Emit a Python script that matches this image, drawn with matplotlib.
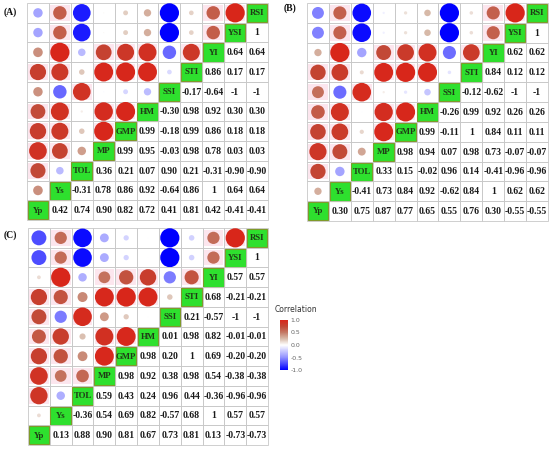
"""Three correlation matrices of drought tolerance indices (circles + values)."""

import matplotlib

matplotlib.use("Agg")

import matplotlib.pyplot as plt  # noqa: E402
import numpy as np  # noqa: E402
from matplotlib.cm import ScalarMappable  # noqa: E402
from matplotlib.colors import LinearSegmentedColormap, Normalize  # noqa: E402
from matplotlib.patches import Ellipse, Rectangle  # noqa: E402

traits = ["Yp", "Ys", "TOL", "MP", "GMP", "HM", "SSI", "STI", "YI", "YSI", "RSI"]

# upper triangle, row i holds corr(trait i, trait j) for j > i
upper_a = [
    [0.42, 0.74, 0.90, 0.82, 0.72, 0.41, 0.81, 0.42, -0.41, -0.41],
    [-0.31, 0.78, 0.86, 0.92, -0.64, 0.86, 1, 0.64, 0.64],
    [0.36, 0.21, 0.07, 0.90, 0.21, -0.31, -0.90, -0.90],
    [0.99, 0.95, -0.03, 0.98, 0.78, 0.03, 0.03],
    [0.99, -0.18, 0.99, 0.86, 0.18, 0.18],
    [-0.30, 0.98, 0.92, 0.30, 0.30],
    [-0.17, -0.64, -1, -1],
    [0.86, 0.17, 0.17],
    [0.64, 0.64],
    [1],
]
upper_b = [
    [0.30, 0.75, 0.87, 0.77, 0.65, 0.55, 0.76, 0.30, -0.55, -0.55],
    [-0.41, 0.73, 0.84, 0.92, -0.62, 0.84, 1, 0.62, 0.62],
    [0.33, 0.15, -0.02, 0.96, 0.14, -0.41, -0.96, -0.96],
    [0.98, 0.94, 0.07, 0.98, 0.73, -0.07, -0.07],
    [0.99, -0.11, 1, 0.84, 0.11, 0.11],
    [-0.26, 0.99, 0.92, 0.26, 0.26],
    [-0.12, -0.62, -1, -1],
    [0.84, 0.12, 0.12],
    [0.62, 0.62],
    [1],
]
upper_c = [
    [0.13, 0.88, 0.90, 0.81, 0.67, 0.73, 0.81, 0.13, -0.73, -0.73],
    [-0.36, 0.54, 0.69, 0.82, -0.57, 0.68, 1, 0.57, 0.57],
    [0.59, 0.43, 0.24, 0.96, 0.44, -0.36, -0.96, -0.96],
    [0.98, 0.92, 0.38, 0.98, 0.54, -0.38, -0.38],
    [0.98, 0.20, 1, 0.69, -0.20, -0.20],
    [0.01, 0.98, 0.82, -0.01, -0.01],
    [0.21, -0.57, -1, -1],
    [0.68, -0.21, -0.21],
    [0.57, 0.57],
    [1],
]
panel_tags = ["(A)", "(B)", "(C)"]
cbar_ticks = [-1.0, -0.5, 0.0, 0.5, 1.0]

W, H = 550, 449
SERIF = "Liberation Serif"

cmap = LinearSegmentedColormap.from_list(
    "corr",
    [
        (0.0, "#0000ff"),
        (0.25, "#9090ff"),
        (0.5, "#ffffff"),
        (0.625, "#d8bcac"),
        (0.75, "#c47a66"),
        (0.875, "#c24634"),
        (1.0, "#d8261a"),
    ],
)
norm = Normalize(-1, 1)


def full_matrix(upper):
    n = len(traits)
    m = np.eye(n)
    for i, row in enumerate(upper):
        for k, v in enumerate(row):
            j = i + 1 + k
            m[i, j] = m[j, i] = v
    return m


def fmt(v):
    if abs(v) == 1:
        return f"{v:.0f}"
    return f"{v:.2f}"


def draw_panel(fig, box, corr):
    x0, y0, x1, y1 = box
    ax = fig.add_axes([x0 / W, 1 - y1 / H, (x1 - x0) / W, (y1 - y0) / H])
    n = len(traits)
    ax.set_xlim(0, n)
    ax.set_ylim(n, 0)
    ax.axis("off")
    cw = (x1 - x0) / n
    ch = (y1 - y0) / n

    for r in range(n):
        i = n - 1 - r
        for c in range(n):
            v = corr[i, c]
            if c < i and v > 0.5:
                # faint pink halo seen behind the strong positive circles
                ax.add_patch(Rectangle((c + 0.05, r + 0.1), 0.9, 0.8, fc="#fce6ee", lw=0))
            ax.add_patch(Rectangle((c, r), 1, 1, fill=False, ec="#c8c8c8", lw=0.6, clip_on=False))
            if c == i:
                ax.add_patch(Rectangle((c + 0.03, r + 0.05), 0.94, 0.92, fc="#2ee02e",
                                       ec="#7f9a2a", lw=0.8, clip_on=False))
                ax.text(c + 0.5, r + 0.52, traits[i], ha="center", va="center", fontsize=6.3,
                        fontweight="bold", family=SERIF, color="#1f3a16")
            elif c > i:
                ax.text(c + 0.5, r + 0.52, fmt(v), ha="center", va="center", fontsize=7,
                        fontweight="bold", family=SERIF, color="#1a1a1a")
            else:
                rad = 9.6 * abs(v) ** 0.8
                ax.add_patch(Ellipse((c + 0.5, r + 0.5), 2 * rad / cw, 2 * rad / ch,
                                     fc=cmap(norm(v)), lw=0))
    return ax


def main() -> None:
    fig = plt.figure(figsize=(W / 100, H / 100), dpi=100)

    boxes = [(27, 3, 268, 220), (307, 3, 548, 221), (28, 228, 268, 445)]
    tag_pos = [(10, 12), (290, 8), (10, 235)]
    for upper, box, tag, (tx, ty) in zip([upper_a, upper_b, upper_c], boxes, panel_tags, tag_pos):
        draw_panel(fig, box, full_matrix(upper))
        fig.text(tx / W, 1 - ty / H, tag, ha="center", va="center", fontsize=7,
                 fontweight="bold", family=SERIF, color="#111111")

    cax = fig.add_axes([280 / W, 1 - 370 / H, 8 / W, 50 / H])
    cb = fig.colorbar(ScalarMappable(norm=norm, cmap=cmap), cax=cax, ticks=cbar_ticks)
    cb.outline.set_visible(False)
    cb.ax.tick_params(length=0, labelsize=4.5, labelcolor="#666666", pad=2)
    cb.ax.set_yticklabels([f"{t:.1f}" for t in cbar_ticks])
    fig.text(296 / W, 1 - 309 / H, "Correlation", ha="center", va="center", fontsize=5.5,
             color="#333333")

    fig.savefig("out.png", dpi=100)
    plt.close(fig)


if __name__ == "__main__":
    main()
